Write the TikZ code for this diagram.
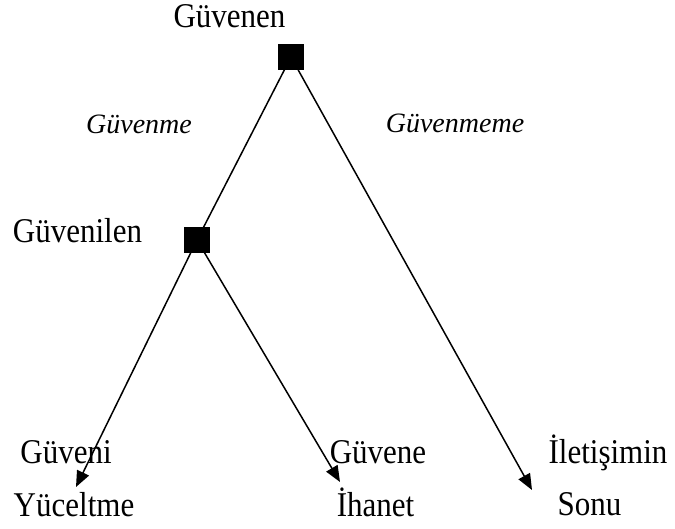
\documentclass[tikz,border=0pt]{standalone}
\usepackage{fontspec}
\setmainfont{Liberation Serif}
\usetikzlibrary{arrows.meta}
\newcommand{\tallt}[1]{\scalebox{1}[1.12]{#1}}
\begin{document}
\begin{tikzpicture}[x=1pt,y=-1pt,
  sq/.style={fill=black,draw=black,minimum size=25pt,inner sep=0pt,outer sep=0pt},
  lbl/.style={anchor=base,inner sep=0pt,font=\fontsize{31}{36}\selectfont},
  ilbl/.style={anchor=base,inner sep=0pt,font=\fontsize{28}{32}\selectfont\itshape},
  conn/.style={line width=1.5pt,black},
  arr/.style={conn,-{Triangle[length=16pt,width=13pt]}}]
\path[use as bounding box] (0,0) rectangle (675,528);
\node[sq] (s1) at (291,57) {};
\node[sq] (s2) at (197,240) {};
\coordinate (t1) at (76,487);
\coordinate (t2) at (340,482);
\coordinate (t3) at (532,490);
\node[lbl] (l1) at (229.5,27) {\tallt{Güvenen}};
\node[lbl] (l2) at (77.5,242) {\tallt{Güvenilen}};
\node[ilbl] (l3) at (139,133) {Güvenme};
\node[ilbl] (l4) at (455,132) {Güvenmeme};
\node[lbl] (l5) at (66,463) {\tallt{Güveni}};
\node[lbl] (l6) at (74,516) {\tallt{Yüceltme}};
\node[lbl] (l7) at (378,463) {\tallt{Güvene}};
\node[lbl] (l8) at (375.5,516) {\tallt{İhanet}};
\node[lbl] (l9) at (608,463) {\tallt{İletişimin}};
\node[lbl] (l10) at (589.5,515) {\tallt{Sonu}};
\draw[conn] (s1) -- (s2);
\draw[arr] (s1) -- (t3);
\draw[arr] (s2) -- (t1);
\draw[arr] (s2) -- (t2);
\end{tikzpicture}
\end{document}
